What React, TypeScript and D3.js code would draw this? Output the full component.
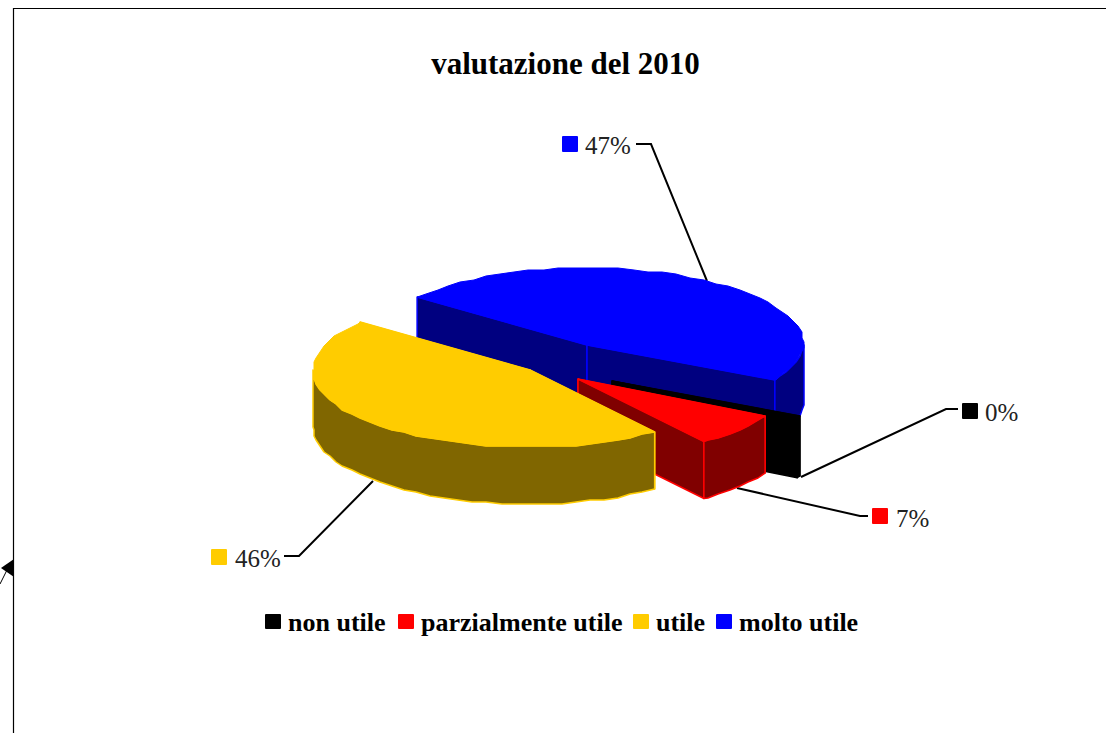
import React from "react";
import * as d3 from "d3";

const categories = ["non utile", "parzialmente utile", "utile", "molto utile"];
const values = [0.4, 7, 46, 47];
const percentLabels = ["0%", "7%", "46%", "47%"];
const topColors = ["#000000", "#ff0000", "#ffcc00", "#0000ff"];
const sideColors = ["#000000", "#800000", "#806600", "#000080"];
const edgeColors = ["#000000", "#ff0000", "#ffcc00", "#0000ff"];

const W = 1106, H = 733;
const RX = 217, RY = 77;
const START = (117 * Math.PI) / 180;
const SERIF = "'Liberation Serif', serif";

// exploded apex and thickness per slice
const apexes = [
  { x: 612, y: 381, depth: 60, k: 1 },
  { x: 578, y: 379, depth: 57, k: 1.01 },
  { x: 530, y: 370, depth: 57, k: 1 },
  { x: 587, y: 345, depth: 60, k: 1 },
];
const labelLayout = [
  { sx: 962, sy: 403, tx: 985, ty: 421, leader: [[801, 477], [946, 409], [958, 409]] },
  { sx: 872, sy: 508, tx: 896, ty: 527, leader: [[737, 488], [860, 516], [868, 516]] },
  { sx: 211, sy: 549, tx: 235, ty: 567, leader: [[373, 481], [299, 556], [284, 556]] },
  { sx: 562, sy: 136, tx: 585, ty: 154, leader: [[707, 281], [651, 144], [636, 144]] },
];
const legendLayout = [
  { sx: 265, tx: 288 },
  { sx: 398, tx: 421 },
  { sx: 633, tx: 656 },
  { sx: 716, tx: 739 },
];

const pie = d3
  .pie<number>()
  .sort(null)
  .startAngle(START)
  .endAngle(START + 2 * Math.PI);
const arcs = pie(values);
const line = d3.line();
const STEP = (4 * Math.PI) / 180;
const snap = (v: number, g: number) => Math.round(v / g) * g;

function angles(a0: number, a1: number) {
  const out = d3.range(a0, a1, STEP);
  out.push(a1);
  return out;
}

// the lower right quadrant is drawn slightly narrower in the reference
function xWarp(t: number) {
  const m = ((t % (2 * Math.PI)) + 2 * Math.PI) % (2 * Math.PI);
  return m > Math.PI / 2 && m < Math.PI ? 1 - 0.035 * Math.sin(2 * (m - Math.PI / 2)) : 1;
}

export default function App() {
  const slices = arcs.map((a, i) => {
    const c = apexes[i];
    const pt = (t: number, dz = 0): [number, number] => [
      c.x + RX * c.k * Math.sin(t) * xWarp(t),
      c.y - RY * c.k * Math.cos(t) + dz,
    ];
    // interior rim points fall on a coarse grid, which gives the stepped outline
    const rimPts = (ts: number[], dz = 0) =>
      ts.map((t, j): [number, number] => {
        const p = pt(t, dz);
        return j === 0 || j === ts.length - 1 ? p : [snap(p[0], 2), snap(p[1], 2)];
      });
    const top = line([[c.x, c.y], ...rimPts(angles(a.startAngle, a.endAngle))]) + "Z";
    const faceAt = (t: number) =>
      line([[c.x, c.y], pt(t), pt(t, c.depth), [c.x, c.y + c.depth]]) + "Z";
    // visible rim: the part of the slice that faces the viewer
    const fronts: [number, number][] = [];
    for (const off of [0, 2 * Math.PI]) {
      const lo = Math.max(a.startAngle, Math.PI / 2 + off);
      const hi = Math.min(a.endAngle, (3 * Math.PI) / 2 + off);
      if (hi > lo) fronts.push([lo, hi]);
    }
    const rims = fronts.map(([lo, hi]) => {
      const ts = angles(lo, hi);
      return line([...rimPts(ts), ...rimPts(ts, c.depth).reverse()]) + "Z";
    });
    return { i, c, top, rims, start: faceAt(a.startAngle), end: faceAt(a.endAngle) };
  });

  const drawOrder = [3, 0, 1, 2];

  return (
    <svg
      width={W}
      height={H}
      viewBox={`0 0 ${W} ${H}`}
      style={{ position: "fixed", left: 0, top: 0, display: "block", background: "#fff" }}
      fontFamily={SERIF}
    >
      <path d={`M13.5 ${H}V8.5H${W}`} fill="none" stroke="#000" strokeWidth={1.2} />
      <path d="M14 559L1 568L14 577Z" fill="#000" />
      <path d="M0 584L7 570" stroke="#000" strokeWidth={1} />

      <text x={565.5} y={74} textAnchor="middle" fontSize={31} fontWeight="bold" fill="#000">
        valutazione del 2010
      </text>

      {labelLayout.map((l, i) => (
        <g key={categories[i]}>
          <path d={line(l.leader as [number, number][])!} fill="none" stroke="#000" strokeWidth={2} />
          <rect x={l.sx} y={l.sy} width={16} height={16} rx={1} fill={topColors[i]} />
          <text x={l.tx} y={l.ty} fontSize={25} fill="#222">
            {percentLabels[i]}
          </text>
        </g>
      ))}

      {drawOrder.map((idx) => {
        const s = slices[idx];
        const e = edgeColors[idx];
        const side = sideColors[idx];
        const sp = { fill: side, stroke: e, strokeWidth: 1.5, strokeLinejoin: "round" as const };
        return (
          <g key={idx}>
            <path d={s.start} {...sp} />
            <path d={s.end} {...sp} />
            {s.rims.map((d, j) => (
              <path key={j} d={d} {...sp} />
            ))}
            <path d={s.top} fill={topColors[idx]} stroke={e} strokeWidth={1} strokeLinejoin="round" />
          </g>
        );
      })}

      {categories.map((c, i) => (
        <g key={c}>
          <rect x={legendLayout[i].sx} y={614} width={16} height={15} rx={1} fill={topColors[i]} />
          <text x={legendLayout[i].tx} y={631} fontSize={26} fontWeight="bold" fill="#000">
            {c}
          </text>
        </g>
      ))}
    </svg>
  );
}
